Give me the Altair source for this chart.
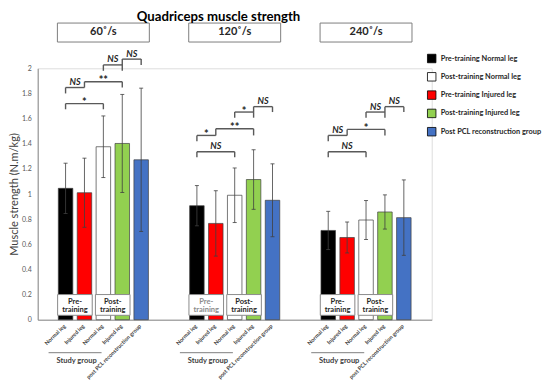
import altair as alt
import pandas as pd

# ---------------- data ----------------
chart_title = "Quadriceps muscle strength"
speeds = ["60˚/s", "120˚/s", "240˚/s"]
series_legend = ["Pre-training Normal leg", "Post-training Normal leg",
                 "Pre-training Injured leg", "Post-training Injured leg",
                 "Post PCL reconstruction group"]
series_colors = ["#000000", "#ffffff", "#ff0000", "#92d050", "#4472c4"]
bar_series = ["Pre-training Normal leg", "Pre-training Injured leg",
              "Post-training Normal leg", "Post-training Injured leg",
              "Post PCL reconstruction group"]
bar_labels = ["Normal leg", "Injured leg", "Normal leg", "Injured leg",
              "post PCL reconstruction group"]

means_60 = [1.045, 1.01, 1.376, 1.402, 1.272]
means_120 = [0.907, 0.766, 0.99, 1.115, 0.95]
means_240 = [0.71, 0.654, 0.793, 0.857, 0.812]
sd_60 = [0.20, 0.275, 0.245, 0.39, 0.57]
sd_120 = [0.16, 0.26, 0.217, 0.237, 0.29]
sd_240 = [0.152, 0.123, 0.155, 0.136, 0.30]

y_ticks = [0, 0.2, 0.4, 0.6, 0.8, 1.0, 1.2, 1.4, 1.6, 1.8, 2.0]
y_title = "Muscle strength (N.m/kg)"
group_caption = "Study group"
box_labels = ["Pre-\ntraining", "Post-\ntraining"]
box_kind = ["Pre", "Post"]

# significance brackets: bar pairs, horizontal level, drop ends, label
bracket_from = [0, 0, 1, 2, 3]
bracket_to = [2, 1, 3, 3, 4]
bracket_top_60 = [1.719, 1.847, 1.893, 2.027, 2.073]
bracket_top_120 = [1.336, 1.466, 1.519, 1.652, 1.695]
bracket_top_240 = [1.336, 1.466, 1.514, 1.652, 1.695]
bracket_left_60 = [1.674, 1.80, 1.847, 1.98, 2.027]
bracket_left_120 = [1.293, 1.42, 1.466, 1.607, 1.652]
bracket_left_240 = [1.293, 1.42, 1.466, 1.607, 1.652]
bracket_right_60 = [1.674, 1.847, 1.847, 1.98, 2.027]
bracket_right_120 = [1.293, 1.466, 1.466, 1.607, 1.652]
bracket_right_240 = [1.293, 1.466, 1.466, 1.607, 1.652]
bracket_text_60 = ["*", "NS", "**", "NS", "NS"]
bracket_text_120 = ["NS", "*", "**", "*", "NS"]
bracket_text_240 = ["NS", "NS", "*", "NS", "NS"]

# ---------------- layout ----------------
W = 394.0
H = 251.4
U = W / 3.0            # px per x unit (one speed group per unit)
PITCH = 18.9 / U
HALF = 7.25 / U
CAP = 2.0 / U
FONT = "Lato"

means = [means_60, means_120, means_240]
sds = [sd_60, sd_120, sd_240]
b_top = [bracket_top_60, bracket_top_120, bracket_top_240]
b_left = [bracket_left_60, bracket_left_120, bracket_left_240]
b_right = [bracket_right_60, bracket_right_120, bracket_right_240]
b_text = [bracket_text_60, bracket_text_120, bracket_text_240]


def center(g, i):
    return g + 0.5 + (i - 2) * PITCH


bar_rows, cap_rows, box_rows, seg_rows, lab_rows, head_rows, sg_rows = [], [], [], [], [], [], []
for g, sp in enumerate(speeds):
    for i, s in enumerate(bar_series):
        m, sd = means[g][i], sds[g][i]
        c = center(g, i)
        bar_rows.append(dict(speed=sp, series=s, label=bar_labels[i], mean=m,
                             lo=m - sd, hi=m + sd, xc=c, xl=c - HALF, xr=c + HALF,
                             xt=c - 1.0 / U))
        for v in (m - sd, m + sd):
            cap_rows.append(dict(xl=c - CAP, xr=c + CAP, y=v))
    for k, lab in enumerate(box_labels):
        first = 2 * k
        x1 = center(g, first) - HALF - 0.7 / U
        x2 = center(g, first + 1) + HALF + 0.5 / U
        box_rows.append(dict(speed=sp, kind=box_kind[k], text=lab, x1=x1, x2=x2,
                             xm=(x1 + x2) / 2, y1=0.035, y2=0.2, ym=0.128))
    for j in range(len(bracket_from)):
        a, b = center(g, bracket_from[j]), center(g, bracket_to[j])
        t = b_top[g][j]
        seg_rows.append(dict(x1=a, x2=b, y1=t, y2=t))
        seg_rows.append(dict(x1=a, x2=a, y1=t, y2=b_left[g][j]))
        seg_rows.append(dict(x1=b, x2=b, y1=t, y2=b_right[g][j]))
        lab_rows.append(dict(x=(a + b) / 2, y=t, text=b_text[g][j]))
    head_rows.append(dict(text=sp, x1=g + 0.5 - 0.35, x2=g + 0.5 + 0.35,
                          xm=g + 0.5, y1=2.209, y2=2.36, ym=2.285))
    c0 = center(g, 0)
    sg_rows.append(dict(text=group_caption, x1=c0 - 17 / U, x2=c0 + 36 / U,
                        xm=c0 + 11 / U))

bars = pd.DataFrame(bar_rows)
caps = pd.DataFrame(cap_rows)
boxes = pd.DataFrame(box_rows)
segs = pd.DataFrame(seg_rows)
labs = pd.DataFrame(lab_rows)
heads = pd.DataFrame(head_rows)
sgs = pd.DataFrame(sg_rows)

xscale = alt.Scale(domain=[0, 3], nice=False, zero=False)
yscale = alt.Scale(domain=[0, 2], nice=False, zero=True)
xaxis = alt.Axis(labels=False, ticks=False, grid=False, title=None,
                 domainColor="#8c8c8c", domainWidth=1)
yaxis = alt.Axis(values=y_ticks, format=".1~f", ticks=False, grid=False,
                 domainColor="#8c8c8c", domainWidth=1,
                 labelFontSize=7, labelColor="#595959", labelPadding=6.5,
                 title=y_title, titleFontSize=11, titleFontWeight="normal",
                 titleColor="#404040", titleX=-23.5, titleY=H / 2,
                 titleAngle=270, titleAlign="center", titleBaseline="middle")


def X(f):
    return alt.X(f, type="quantitative", scale=xscale, axis=xaxis)


def Y(f):
    return alt.Y(f, type="quantitative", scale=yscale, axis=yaxis)


bar_layer = alt.Chart(bars).mark_bar(stroke="#404040", strokeWidth=0.7).encode(
    x=X("xl"), x2="xr", y=Y("mean"), y2=alt.datum(0),
    color=alt.Color("series:N",
                    scale=alt.Scale(domain=series_legend, range=series_colors),
                    legend=alt.Legend(orient="none", legendX=389.0, legendY=-14.8,
                                      title=None, symbolType="square", symbolSize=72,
                                      symbolStrokeColor="#000000", symbolStrokeWidth=0.8,
                                      symbolOpacity=1,
                                      labelFont=FONT, labelFontSize=7.4,
                                      labelFontWeight="bold", labelColor="#262626",
                                      labelOffset=4, rowPadding=6.3, padding=0,
                                      labelLimit=300)))

err_layer = alt.Chart(bars).mark_rule(color="#404040", strokeWidth=0.8).encode(
    x=X("xc"), y=Y("lo"), y2="hi")
cap_layer = alt.Chart(caps).mark_rule(color="#404040", strokeWidth=0.8).encode(
    x=X("xl"), x2="xr", y=Y("y"))

box_layer = alt.Chart(boxes).mark_rect(fill="white", stroke="#8c8c8c", strokeWidth=1).encode(
    x=X("x1"), x2="x2", y=Y("y1"), y2="y2")
box_text = alt.Chart(boxes).mark_text(font=FONT, fontSize=7.5, fontWeight="bold",
                                      lineBreak="\n", lineHeight=8.6,
                                      baseline="alphabetic", align="center").encode(
    x=X("xm"), y=Y("ym"), text="text:N",
    color=alt.condition((alt.datum.speed == "120˚/s") & (alt.datum.kind == "Pre"),
                        alt.value("#8c8c8c"), alt.value("#262626")))

seg_layer = alt.Chart(segs).mark_rule(color="#595959", strokeWidth=1.4).encode(
    x=X("x1"), x2="x2", y=Y("y1"), y2="y2")
ns_layer = alt.Chart(labs).transform_filter(alt.datum.text == "NS").mark_text(
    font=FONT, fontSize=9, fontWeight="bold", fontStyle="italic", color="#262626",
    baseline="alphabetic", dy=-2.5).encode(x=X("x"), y=Y("y"), text="text:N")
star_layer = alt.Chart(labs).transform_filter(alt.datum.text != "NS").mark_text(
    font=FONT, fontSize=11, fontWeight="bold", color="#262626",
    baseline="alphabetic", dy=2.5).encode(x=X("x"), y=Y("y"), text="text:N")

head_box = alt.Chart(heads).mark_rect(fill="white", stroke="#7f7f7f", strokeWidth=1).encode(
    x=X("x1"), x2="x2", y=Y("y1"), y2="y2")
head_text = alt.Chart(heads).mark_text(font=FONT, fontSize=11, fontWeight="bold",
                                       color="#262626", baseline="middle").encode(
    x=X("xm"), y=Y("ym"), text="text:N")

tick_text = alt.Chart(bars).mark_text(font=FONT, fontSize=5.5, fontWeight="bold",
                                      color="#404040", angle=315, align="right",
                                      baseline="middle").encode(
    x=X("xt"), y=alt.value(H + 5.5), text="label:N")

sg_rule = alt.Chart(sgs).mark_rule(color="#7f7f7f", strokeWidth=1).encode(
    x=X("x1"), x2="x2", y=alt.value(H + 33))
sg_text = alt.Chart(sgs).mark_text(font=FONT, fontSize=7.5, fontWeight="bold",
                                   color="#404040", baseline="middle").encode(
    x=X("xm"), y=alt.value(H + 41), text="text:N")

title_layer = alt.Chart(pd.DataFrame({"t": [chart_title]})).mark_text(
    font=FONT, fontSize=13.2, fontWeight="bold", color="#000000",
    baseline="middle", align="center").encode(
    x=alt.value(180.8), y=alt.value(-51.5), text="t:N")

chart = alt.layer(
    bar_layer, box_layer, box_text, err_layer, cap_layer, seg_layer,
    ns_layer, star_layer, head_box, head_text, tick_text, sg_rule, sg_text,
    title_layer,
).properties(
    width=W, height=H,
    autosize=alt.AutoSizeParams(type="none"),
    padding={"left": 29.7, "top": 60.3, "right": 110.3, "bottom": 64.3},
).configure_view(stroke=None).configure(font=FONT)

chart.save("out.html", embed_options={"renderer": "svg", "actions": False})
